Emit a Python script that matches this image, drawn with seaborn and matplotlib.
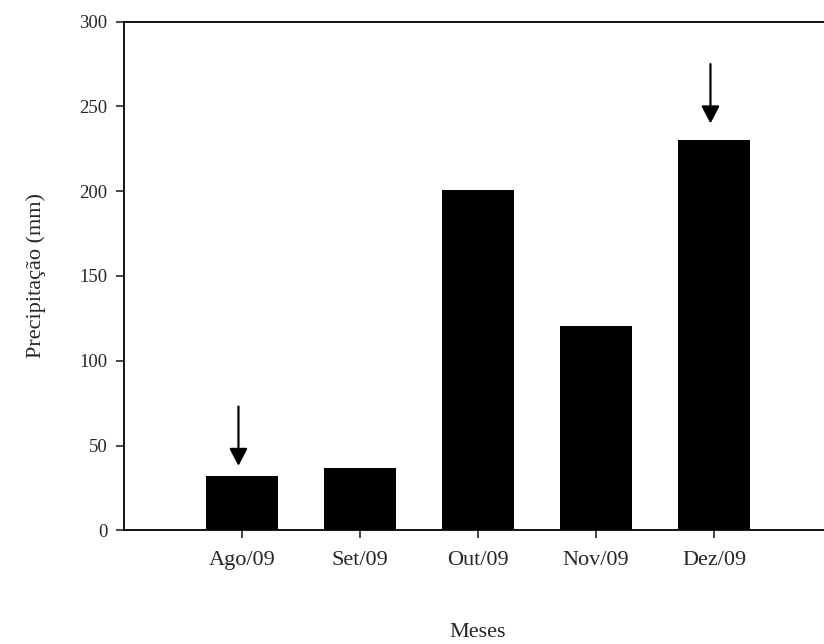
import matplotlib
matplotlib.use("Agg")
import matplotlib.pyplot as plt
import seaborn as sns
import pandas as pd

months = ["Ago/09", "Set/09", "Out/09", "Nov/09", "Dez/09"]
precip = [32, 36.5, 201, 120.5, 230.5]
arrow_months = ["Ago/09", "Dez/09"]
arrow_start = [73, 275]
arrow_tip = [38, 240]
yticks = [0, 50, 100, 150, 200, 250, 300]

sns.set_style("ticks")
plt.rcParams["font.family"] = ["Liberation Serif", "DejaVu Serif"]

df = pd.DataFrame({"Meses": months, "Precipitação": precip})

fig = plt.figure(figsize=(8.24, 6.44), dpi=100)
ax = fig.add_axes([124/824, (644-530.3)/644, 708/824, (530.3-21.7)/644])

sns.barplot(data=df, x="Meses", y="Precipitação", color="black",
            width=0.615, ax=ax, saturation=1, edgecolor="none")

for m, ys, yt in zip(arrow_months, arrow_start, arrow_tip):
    xi = months.index(m) - 0.03
    ax.annotate("", xy=(xi, yt), xytext=(xi, ys),
                arrowprops=dict(arrowstyle="-|>,head_width=0.55,head_length=1.05",
                                color="black", lw=1.6, shrinkA=0, shrinkB=0))

ax.set_xlim(-1, 5)
ax.set_ylim(0, 300)
ax.set_yticks(yticks)
ax.set_xlabel("Meses", fontsize=16, labelpad=38)
ax.set_ylabel("Precipitação (mm)", fontsize=16, labelpad=24)
ax.tick_params(axis="x", labelsize=16, length=6, width=1.2, direction="out", pad=9)
ax.tick_params(axis="y", labelsize=13.5, length=6, width=1.2, direction="out", pad=6)
for s in ["left", "bottom", "top"]:
    ax.spines[s].set_linewidth(1.3)
    ax.spines[s].set_color("black")
ax.spines["right"].set_visible(False)
ax.spines["top"].set_visible(True)

fig.savefig("out.png", dpi=100)
